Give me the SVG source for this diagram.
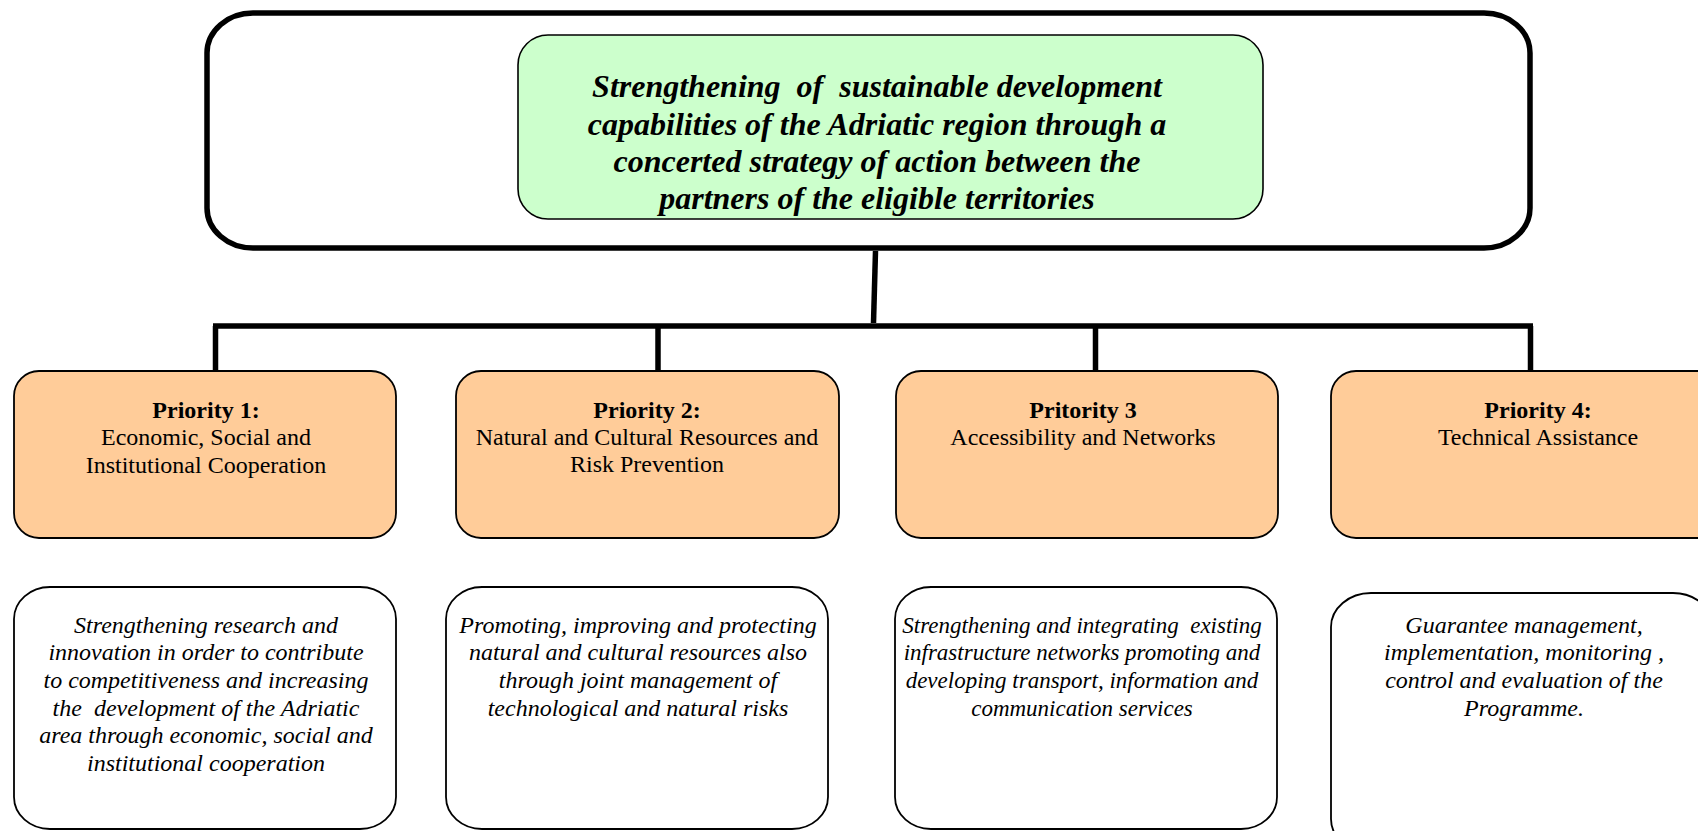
<svg xmlns="http://www.w3.org/2000/svg" width="1698" height="831" viewBox="0 0 1698 831">
<style>
.bg{fill:#ffffff}
.outer{fill:#ffffff;stroke:#000;stroke-width:5.5}
.goal{fill:#CCFFCC;stroke:#000;stroke-width:1.6}
.prio{fill:#FFCC99;stroke:#000;stroke-width:1.8}
.desc{fill:#ffffff;stroke:#000;stroke-width:1.8}
.conn{stroke:#000;stroke-width:5.5;fill:none;stroke-linecap:butt}
.gt{font-family:"Liberation Serif","Times New Roman",serif;font-size:32px;font-weight:bold;font-style:italic;text-anchor:middle;fill:#000;white-space:pre}
.pt{font-family:"Liberation Serif","Times New Roman",serif;font-size:24px;text-anchor:middle;fill:#000;white-space:pre}
.pb{font-weight:bold}
.dt{font-family:"Liberation Serif","Times New Roman",serif;font-size:24px;font-style:italic;text-anchor:middle;fill:#000;white-space:pre}
.dt3{font-size:23px}
</style>
<rect class="bg" x="0" y="0" width="1698" height="831"/>
<g id="frame">
<rect class="outer" x="207" y="13" width="1323" height="235" rx="46" ry="40"/>
</g>
<g id="goal">
<rect class="goal" x="518" y="35" width="745" height="184" rx="30" ry="30"/>
<text class="gt" x="877" y="97" xml:space="preserve">Strengthening  of  sustainable development</text>
<text class="gt" x="877" y="135">capabilities of the Adriatic region through a</text>
<text class="gt" x="877" y="172">concerted strategy of action between the</text>
<text class="gt" x="877" y="209">partners of the eligible territories</text>
</g>
<g id="connectors">
<line class="conn" x1="875.5" y1="251" x2="873.5" y2="323"/>
<line class="conn" x1="213" y1="326" x2="1533" y2="326"/>
<line class="conn" x1="215.5" y1="326" x2="215.5" y2="372"/>
<line class="conn" x1="658" y1="326" x2="658" y2="372"/>
<line class="conn" x1="1095.5" y1="326" x2="1095.5" y2="372"/>
<line class="conn" x1="1530.5" y1="326" x2="1530.5" y2="372"/>
</g>
<g id="priority1">
<rect class="prio" x="14" y="371" width="382" height="167" rx="25" ry="25"/>
<text class="pt pb" x="206" y="418">Priority 1:</text>
<text class="pt" x="206" y="445">Economic, Social and</text>
<text class="pt" x="206" y="473">Institutional Cooperation</text>
</g>
<g id="priority2">
<rect class="prio" x="456" y="371" width="383" height="167" rx="25" ry="25"/>
<text class="pt pb" x="647" y="418">Priority 2:</text>
<text class="pt" x="647" y="445">Natural and Cultural Resources and</text>
<text class="pt" x="647" y="472">Risk Prevention</text>
</g>
<g id="priority3">
<rect class="prio" x="896" y="371" width="382" height="167" rx="25" ry="25"/>
<text class="pt pb" x="1083" y="418">Pritority 3</text>
<text class="pt" x="1083" y="445">Accessibility and Networks</text>
</g>
<g id="priority4">
<rect class="prio" x="1331" y="371" width="400" height="167" rx="25" ry="25"/>
<text class="pt pb" x="1538" y="418">Priority 4:</text>
<text class="pt" x="1538" y="445">Technical Assistance</text>
</g>
<g id="desc1">
<rect class="desc" x="14" y="587" width="382" height="242" rx="36" ry="32"/>
<text class="dt" x="206" y="633">Strengthening research and</text>
<text class="dt" x="206" y="660">innovation in order to contribute</text>
<text class="dt" x="206" y="688">to competitiveness and increasing</text>
<text class="dt" x="206" y="716" xml:space="preserve">the  development of the Adriatic</text>
<text class="dt" x="206" y="743">area through economic, social and</text>
<text class="dt" x="206" y="771">institutional cooperation</text>
</g>
<g id="desc2">
<rect class="desc" x="446" y="587" width="382" height="242" rx="36" ry="32"/>
<text class="dt" x="638" y="633">Promoting, improving and protecting</text>
<text class="dt" x="638" y="660">natural and cultural resources also</text>
<text class="dt" x="638" y="688">through joint management of</text>
<text class="dt" x="638" y="716">technological and natural risks</text>
</g>
<g id="desc3">
<rect class="desc" x="895" y="587" width="382" height="242" rx="36" ry="32"/>
<text class="dt dt3" x="1082" y="633" xml:space="preserve">Strengthening and integrating  existing</text>
<text class="dt dt3" x="1082" y="660">infrastructure networks promoting and</text>
<text class="dt dt3" x="1082" y="688">developing transport, information and</text>
<text class="dt dt3" x="1082" y="716">communication services</text>
</g>
<g id="desc4">
<rect class="desc" x="1331" y="593" width="382" height="260" rx="40" ry="34"/>
<text class="dt" x="1524" y="633">Guarantee management,</text>
<text class="dt" x="1524" y="660">implementation, monitoring ,</text>
<text class="dt" x="1524" y="688">control and evaluation of the</text>
<text class="dt" x="1524" y="716">Programme.</text>
</g>
</svg>
